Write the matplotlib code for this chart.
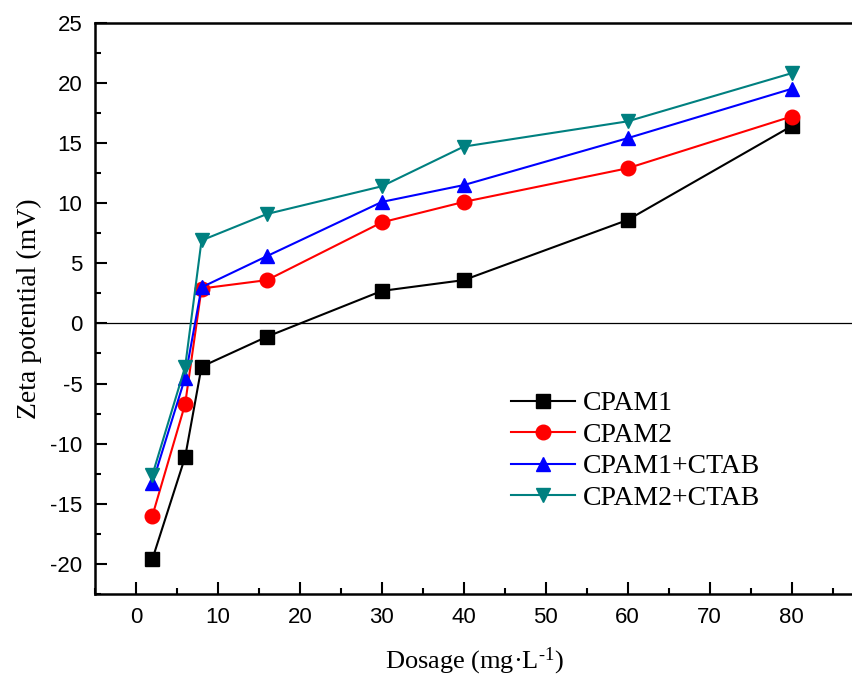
import matplotlib
matplotlib.use("Agg")
import matplotlib.pyplot as plt
from matplotlib.ticker import MultipleLocator

# dosage (mg/L) and zeta potential (mV)
dosage = [2, 6, 8, 16, 30, 40, 60, 80]
cpam1 = [-19.6, -11.1, -3.6, -1.1, 2.7, 3.6, 8.6, 16.4]
cpam2 = [-16.0, -6.7, 2.9, 3.6, 8.4, 10.1, 12.9, 17.2]
cpam1_ctab = [-13.3, -4.5, 3.0, 5.6, 10.1, 11.5, 15.4, 19.5]
cpam2_ctab = [-12.6, -3.6, 6.9, 9.1, 11.4, 14.7, 16.8, 20.8]

labels = ["CPAM1", "CPAM2", "CPAM1+CTAB", "CPAM2+CTAB"]
series = [cpam1, cpam2, cpam1_ctab, cpam2_ctab]
colors = ["black", "#ff0000", "#0000ff", "#008080"]
markers = ["s", "o", "^", "v"]

plt.rcParams["axes.unicode_minus"] = False
plt.rcParams["mathtext.fontset"] = "custom"
plt.rcParams["mathtext.rm"] = "Liberation Serif"
plt.rcParams["mathtext.default"] = "rm"

fig = plt.figure(figsize=(8.53, 6.76), dpi=100)
ax = fig.add_axes([0.1114, 0.1213, 0.8886, 0.8451])

for y, lab, c, m in zip(series, labels, colors, markers):
    ax.plot(dosage, y, color=c, marker=m, markersize=10.5, lw=1.5, label=lab)

ax.axhline(0, color="black", lw=0.9, zorder=0)

ax.set_xlim(-5, 87.5)
ax.set_ylim(-22.5, 25)
ax.xaxis.set_major_locator(MultipleLocator(10))
ax.xaxis.set_minor_locator(MultipleLocator(5))
ax.yaxis.set_major_locator(MultipleLocator(5))
ax.yaxis.set_minor_locator(MultipleLocator(2.5))
ax.tick_params(which="both", direction="in", width=1.5, labelsize=16,
               top=False, right=False, pad=9)
ax.tick_params(which="major", length=8.5)
ax.tick_params(which="minor", length=4.5)
for lbl in ax.get_xticklabels() + ax.get_yticklabels():
    lbl.set_family("Liberation Sans")

ax.spines["right"].set_visible(False)
for s in ["left", "bottom", "top"]:
    ax.spines[s].set_linewidth(1.8)

ax.set_xlabel("Dosage (mg·L$^{\\text{-1}}$)", family="Liberation Serif", fontsize=19, labelpad=13)
ax.set_ylabel("Zeta potential (mV)", family="Liberation Serif", fontsize=20, labelpad=6)

leg = ax.legend(loc="upper left", bbox_to_anchor=(0.53, 0.38), frameon=False,
                prop={"family": "Liberation Serif", "size": 20},
                handlelength=2.3, handletextpad=0.3, labelspacing=0.22, borderpad=0)

fig.savefig("out.png", dpi=100)
